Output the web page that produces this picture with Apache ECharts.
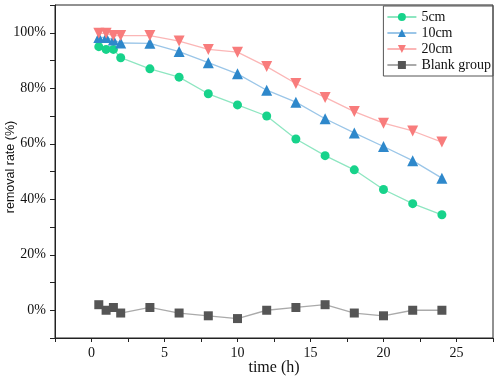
<!DOCTYPE html>
<html>
<head>
<meta charset="utf-8">
<script src="https://cdn.jsdelivr.net/npm/echarts@6/dist/echarts.min.js"></script>
<style>
  html, body { margin: 0; padding: 0; background: #fff; }
  #chart { width: 498px; height: 389px; }
</style>
</head>
<body>
<div id="chart"></div>
<script>
const times = [0.5, 1, 1.5, 2, 4, 6, 8, 10, 12, 14, 16, 18, 20, 22, 24];
const rate5cm = [95, 94, 94, 91, 87, 84, 78, 74, 70, 61.7, 55.7, 50.6, 43.5, 38.4, 34.4];
const rate10cm = [98.3, 98.3, 97.4, 96.3, 96.2, 93.2, 89.2, 85.2, 79.3, 75, 69, 63.9, 59, 53.9, 47.6];
const rate20cm = [99.8, 99.8, 99, 99, 99, 97, 94, 93, 87.8, 81.7, 76.7, 71.6, 67.4, 64.6, 60.6];
const rateBlank = [2, 0, 1, -1, 1, -1, -2, -3, 0, 1, 2, -1, -2, 0, 0];
const seriesNames = ["5cm", "10cm", "20cm", "Blank group"];

const serif = "Liberation Serif";
const chart = echarts.init(document.getElementById("chart"));

function pairs(ys) {
  return times.map((t, i) => [t, ys[i]]);
}

function lineSeries(name, ys, symbol, size, markColor, lineColor, rotate) {
  return {
    name: name,
    type: "line",
    data: pairs(ys),
    symbol: symbol,
    symbolSize: size,
    symbolRotate: rotate || 0,
    showAllSymbol: true,
    itemStyle: { color: markColor, opacity: 1 },
    lineStyle: { color: lineColor, width: 1.3 },
    emphasis: { disabled: true },
  };
}

const option = {
  animation: false,
  grid: {
    left: 55,
    right: 5,
    top: 5,
    bottom: 51,
    containLabel: false,
    outerBoundsMode: "none",
    show: true,
    borderColor: "#222",
    borderWidth: 1,
  },
  legend: {
    orient: "vertical",
    right: 5,
    top: 6,
    itemWidth: 29,
    itemHeight: 10,
    itemGap: 2,
    padding: [4, 2, 4, 3],
    borderColor: "#555",
    borderWidth: 1,
    textStyle: { fontFamily: serif, fontSize: 14, color: "#111" },
    data: seriesNames,
  },
  xAxis: {
    type: "value",
    min: -2.5,
    max: 27.5,
    interval: 2.5,
    name: "time (h)",
    nameLocation: "middle",
    nameGap: 22,
    nameMoveOverlap: false,
    nameTextStyle: { fontFamily: serif, fontSize: 16, color: "#111" },
    axisLine: { show: true, onZero: false, lineStyle: { color: "#222", width: 1 } },
    axisTick: { show: true, length: 4, lineStyle: { color: "#222" } },
    axisLabel: {
      fontFamily: serif,
      fontSize: 14,
      color: "#111",
      margin: 8,
      formatter: (v) => (v % 5 === 0 && v >= 0 && v <= 25 ? String(v) : ""),
    },
    splitLine: { show: false },
  },
  yAxis: {
    type: "value",
    min: -10,
    max: 110,
    interval: 10,
    name: "removal rate (%)",
    nameLocation: "middle",
    nameGap: 38,
    nameMoveOverlap: false,
    nameTextStyle: { fontFamily: "Liberation Sans", fontSize: 12.5, color: "#111", padding: [0, 0, 0, 9] },
    axisLine: { show: true, onZero: false, lineStyle: { color: "#222", width: 1 } },
    axisTick: { show: true, length: 5, lineStyle: { color: "#222" } },
    axisLabel: {
      fontFamily: serif,
      fontSize: 14,
      color: "#111",
      margin: 9,
      formatter: (v) => (v % 20 === 0 && v >= 0 && v <= 100 ? v + "%" : ""),
    },
    splitLine: { show: false },
  },
  series: [
    lineSeries(seriesNames[0], rate5cm, "circle", 9, "#17d38b", "#8ee6c1"),
    lineSeries(seriesNames[1], rate10cm, "triangle", 11, "#2e88cb", "#9bc6e8"),
    lineSeries(seriesNames[2], rate20cm, "triangle", 11, "#f87c7c", "#fbb6b6", 180),
    lineSeries(seriesNames[3], rateBlank, "rect", 9, "#555555", "#aaaaaa"),
  ],
};
chart.setOption(option);
</script>
</body>
</html>
